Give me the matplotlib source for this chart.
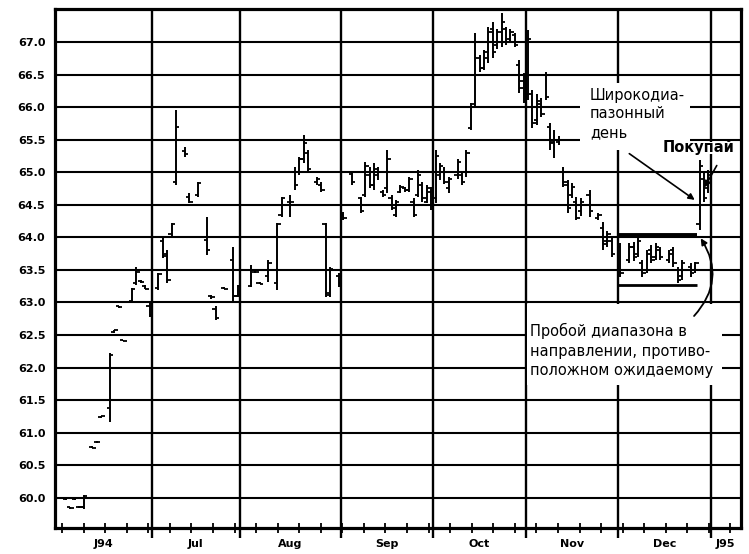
import numpy as np
import matplotlib
matplotlib.use("Agg")
import matplotlib.pyplot as plt
from matplotlib.patches import Rectangle, FancyArrowPatch
from matplotlib.transforms import blended_transform_factory

# ---------------- data (trading-day index, OHLC) ----------------
day = [2, 3, 4, 5, 6, 8, 9, 10, 12, 13, 14, 15, 17, 18, 19, 20, 21,
       23, 24, 25, 26, 27, 29, 30, 32, 34, 35, 36, 37, 38, 40, 41,
       44, 45, 46, 48, 50, 51, 53, 54, 55, 56, 57, 59, 60, 61, 62, 64,
       65, 67, 69, 70, 71, 72, 73, 74, 75, 76, 77, 78, 79, 80, 81, 82, 83, 84, 85,
       86, 87, 88, 89, 91, 92, 93, 94, 95, 96, 97, 98, 99, 100, 101, 102, 103, 104, 105, 106,
       107, 108, 109, 110, 111, 112, 113, 114, 115, 116, 117, 118, 119, 121, 123, 124, 125, 126,
       128, 130, 131, 132, 133, 134, 135, 136, 137, 139, 140, 141, 142, 144, 145, 146, 147, 148]
high = [60.00, 59.86, 60.00, 59.87, 60.04, 60.79, 60.87, 61.26, 62.22, 62.58, 62.95, 62.43, 63.22, 63.55, 63.34, 63.26, 63.00,
        63.45, 63.99, 63.80, 64.22, 65.96, 65.39, 64.68, 64.85, 64.31, 63.12, 62.95, 63.02, 63.23, 63.85, 63.27,
        63.57, 63.49, 63.32, 63.65, 64.22, 64.62, 64.65, 65.08, 65.23, 65.57, 65.34, 64.93, 64.85, 64.22, 63.54, 63.45,
        64.39, 64.99, 64.62, 65.16, 65.08, 65.14, 65.08, 64.73, 65.34, 64.65, 64.57, 64.80, 64.78, 64.93, 64.60, 65.03, 64.85, 64.80, 64.77,
        65.34, 65.14, 65.08, 64.93, 65.20, 64.99, 65.34, 66.06, 67.14, 66.80, 66.88, 67.23, 67.31, 67.20, 67.45, 67.23, 67.20, 67.14, 66.72, 66.52,
        67.18, 66.26, 66.20, 66.14, 66.54, 65.76, 65.65, 65.55, 65.08, 64.88, 64.83, 64.62, 64.60, 64.73, 64.37, 64.23, 64.10, 64.00,
        63.91, 63.91, 63.93, 64.00, 63.65, 63.80, 63.88, 63.91, 63.85, 63.80, 63.85, 63.54, 63.65, 63.60, 63.62, 65.19, 65.00, 65.03]
low = [59.97, 59.83, 59.97, 59.84, 59.83, 60.76, 60.84, 61.22, 61.16, 62.53, 62.92, 62.40, 63.00, 63.27, 63.30, 63.20, 62.78,
       63.19, 63.68, 63.30, 64.00, 64.80, 65.23, 64.53, 64.62, 63.73, 63.06, 62.73, 62.99, 63.20, 62.99, 63.08,
       63.24, 63.45, 63.28, 63.31, 63.19, 64.31, 64.31, 64.73, 64.96, 65.14, 64.99, 64.80, 64.70, 63.08, 63.08, 63.24,
       64.27, 64.80, 64.37, 64.62, 64.76, 64.73, 64.88, 64.62, 64.68, 64.42, 64.31, 64.68, 64.70, 64.70, 64.31, 64.62, 64.55, 64.52, 64.42,
       64.53, 64.88, 64.82, 64.68, 64.90, 64.80, 64.93, 65.65, 65.98, 66.54, 66.57, 66.68, 66.75, 66.90, 66.92, 66.95, 66.98, 66.92, 66.22, 66.06,
       66.11, 65.68, 65.72, 65.85, 66.11, 65.34, 65.22, 65.42, 64.77, 64.37, 64.60, 64.27, 64.33, 64.31, 64.27, 63.80, 63.85, 63.70,
       63.39, 63.60, 63.63, 63.70, 63.39, 63.45, 63.60, 63.65, 63.65, 63.60, 63.54, 63.30, 63.34, 63.39, 63.45, 64.11, 64.55, 64.68]
open_ = [59.98, 59.85, 59.98, 59.86, 59.85, 60.78, 60.85, 61.24, 61.38, 62.54, 62.94, 62.42, 63.02, 63.30, 63.33, 63.25, 62.95,
         63.22, 63.95, 63.75, 64.05, 64.85, 65.33, 64.62, 64.65, 63.96, 63.10, 62.90, 63.01, 63.22, 63.65, 63.10,
         63.25, 63.47, 63.30, 63.40, 63.30, 64.35, 64.54, 65.00, 65.00, 65.20, 65.30, 64.85, 64.80, 64.20, 63.12, 63.40,
         64.35, 64.97, 64.60, 64.65, 64.95, 64.80, 64.95, 64.70, 64.75, 64.60, 64.35, 64.70, 64.75, 64.72, 64.55, 64.65, 64.80, 64.55, 64.70,
         64.60, 64.95, 65.00, 64.75, 64.95, 64.95, 65.00, 65.68, 66.05, 66.75, 66.60, 66.75, 67.20, 66.95, 67.00, 67.20, 67.05, 67.10, 66.65, 66.40,
         66.20, 66.20, 65.80, 66.05, 66.50, 65.70, 65.46, 65.46, 65.00, 64.80, 64.65, 64.55, 64.40, 64.65, 64.30, 64.15, 63.95, 63.95,
         63.85, 63.65, 63.85, 63.75, 63.60, 63.50, 63.80, 63.70, 63.80, 63.65, 63.80, 63.50, 63.40, 63.55, 63.50, 64.20, 64.90, 64.75]
close = [59.99, 59.84, 59.99, 59.85, 60.03, 60.77, 60.86, 61.25, 62.20, 62.57, 62.93, 62.41, 63.20, 63.47, 63.31, 63.21, 62.80,
         63.43, 63.72, 63.35, 64.20, 65.70, 65.28, 64.54, 64.83, 63.80, 63.08, 62.76, 63.00, 63.21, 63.10, 63.25,
         63.50, 63.46, 63.29, 63.60, 64.20, 64.60, 64.54, 64.80, 65.20, 65.45, 65.05, 64.90, 64.72, 63.15, 63.52, 63.30,
         64.30, 64.85, 64.40, 65.10, 64.80, 65.05, 65.00, 64.65, 65.20, 64.45, 64.55, 64.78, 64.72, 64.90, 64.35, 64.95, 64.60, 64.75, 64.50,
         65.25, 65.10, 64.85, 64.90, 65.15, 64.85, 65.30, 66.00, 67.00, 66.60, 66.85, 67.15, 66.85, 67.15, 67.30, 67.00, 67.15, 66.95, 66.30, 66.10,
         67.05, 65.75, 66.10, 65.90, 66.15, 65.45, 65.50, 65.50, 64.85, 64.45, 64.78, 64.30, 64.55, 64.40, 64.35, 63.90, 64.05, 63.75,
         63.45, 63.85, 63.70, 63.95, 63.45, 63.75, 63.65, 63.85, 63.70, 63.75, 63.60, 63.35, 63.60, 63.45, 63.60, 65.10, 64.60, 64.95]

month_labels = ["J94", "Jul", "Aug", "Sep", "Oct", "Nov", "Dec", "J95"]
month_start = [0, 22, 42, 65, 86, 107, 128, 149]
last_day = 155.9
y_ticks = np.arange(60.0, 67.01, 0.5)

range_top = 64.04
range_bottom = 63.27
range_start = 128
breakout_day = 146

# ---------------- figure ----------------
W, H = 749, 554
fig = plt.figure(figsize=(W / 100, H / 100), dpi=100)
ax = fig.add_axes([55 / W, 26 / H, 686 / W, 519 / H])
ax.set_xlim(0, last_day)
ax.set_ylim(59.535, 67.507)

for y in y_ticks:
    ax.axhline(y, color="black", lw=1.5, zorder=1)
for m in month_start[1:]:
    ax.axvline(m, color="black", lw=1.7, zorder=1)

for s in ax.spines.values():
    s.set_linewidth(2.3)
    s.set_zorder(5)

# y ticks
ax.set_yticks(y_ticks)
ax.set_yticklabels([f"{v:.1f}" for v in y_ticks], fontsize=8, fontweight="bold")
ax.tick_params(axis="y", length=0, pad=7)

# x ticks: month boundaries (major) + weekly (minor)
ax.set_xticks(month_start[1:])
ax.set_xticklabels([])
ax.tick_params(axis="x", which="major", direction="out", length=7, width=1.7)
ax.set_xticks(np.arange(1.6, last_day, 4.9), minor=True)
ax.tick_params(axis="x", which="minor", direction="inout", length=7, width=1.3)

bt = blended_transform_factory(ax.transData, ax.transAxes)
edges = month_start + [last_day]
for i, lab in enumerate(month_labels):
    cx = (edges[i] + edges[i + 1]) / 2
    ax.text(cx, -0.03, lab, transform=bt, ha="center", va="center",
            fontsize=8, fontweight="bold")

# ---------------- OHLC bars ----------------
x = np.array(day) + 0.5
tk = 0.75
ax.vlines(x, low, high, color="black", lw=1.4, zorder=3)
ax.hlines(open_, x - tk, x, color="black", lw=1.3, zorder=3)
ax.hlines(close, x, x + tk, color="black", lw=1.3, zorder=3)

# ---------------- trading range box ----------------
ax.plot([range_start, breakout_day], [range_top, range_top], color="black", lw=2.8, zorder=3,
        solid_capstyle="butt")
ax.plot([range_start, breakout_day], [range_bottom, range_bottom], color="black", lw=2.0, zorder=3,
        solid_capstyle="butt")

# ---------------- annotation backgrounds ----------------
ax.add_patch(Rectangle((119.3, 65.34), 25.0, 1.03, facecolor="white", edgecolor="none", zorder=2))
ax.add_patch(Rectangle((137.0, 65.285), 18.9, 0.18, facecolor="white", edgecolor="none", zorder=2))
ax.add_patch(Rectangle((107.3, 61.73), 44.3, 1.24, facecolor="white", edgecolor="none", zorder=2))

font_ann = ["DejaVu Sans"]
ax.text(121.6, 66.30, "Широкодиа-\nпазонный\nдень", ha="left", va="top",
        fontsize=10.5, linespacing=1.3, family=font_ann, zorder=4)
ax.text(138.0, 65.39, "Покупай", ha="left", va="center", fontsize=10.5,
        fontweight="bold", family=font_ann, zorder=4)
ax.text(108.0, 62.68, "Пробой диапазона в\nнаправлении, противо-\nположном ожидаемому",
        ha="left", va="top", fontsize=10.5, linespacing=1.35, family=font_ann, zorder=4)

# arrows
ax.add_patch(FancyArrowPatch((130.0, 65.31), (145.9, 64.55), arrowstyle="-|>",
                             mutation_scale=9, lw=1.2, color="black", zorder=4))
ax.add_patch(FancyArrowPatch((150.7, 65.14), (147.3, 64.73), arrowstyle="-|>",
                             mutation_scale=9, lw=1.2, color="black", zorder=4))
ax.add_patch(FancyArrowPatch((144.8, 62.76), (146.4, 64.02), arrowstyle="-|>",
                             connectionstyle="arc3,rad=0.4",
                             mutation_scale=9, lw=1.3, color="black", zorder=4))

fig.savefig("out.png", dpi=100)
